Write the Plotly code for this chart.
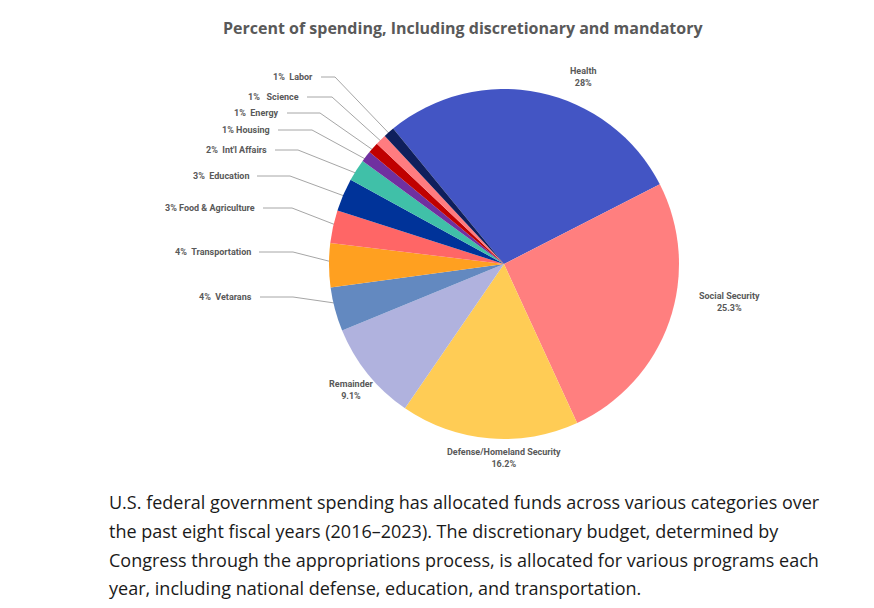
import numpy as np
import plotly.graph_objects as go

# data (clockwise from Health)
categories = ["Health", "Social Security", "Defense/Homeland Security", "Remainder",
              "Vetarans", "Transportation", "Food & Agriculture", "Education",
              "Int'l Affairs", "Housing", "Energy", "Science", "Labor"]
percents = [28, 25.3, 16.2, 9.1, 4, 4, 3, 3, 2, 1, 1, 1, 1]
colors = ["#4355C4", "#FF7F7F", "#FFCC55", "#B0B2DE", "#6389C0", "#FFA020", "#FF6666",
          "#003399", "#40C0A8", "#7030A0", "#C00000", "#FF7C80", "#0F1F5C"]

title = "Percent of spending, Including discretionary and mandatory"
paragraph = [
    "U.S. federal government spending has allocated funds across various categories over",
    "the past eight fiscal years (2016\u20132023). The discretionary budget, determined by",
    "Congress through the appropriations process, is allocated for various programs each",
    "year, including national defense, education, and transportation.",
]

# layout constants (page pixels); the page body adds an 8px offset
W, H = 874, 608
OFF = 8
CX, CY, R = 504, 264, 175
ROT = -39.3
GRAY = "#595959"
LINE = "#A6A6A6"

# big labels sit next to the pie, small ones on the left with leader lines
big_label_pos = {0: (583, 77), 1: (729, 302), 2: (504, 458), 3: (351, 390)}
small_label_y = {4: 297, 5: 252, 6: 208, 7: 176, 8: 150, 9: 130, 10: 113, 11: 97, 12: 77}
small_label_end = {4: 254, 5: 253, 6: 257, 7: 251, 8: 269, 9: 272, 10: 281, 11: 301, 12: 315}
small_elbow_x = {4: 293, 5: 293, 6: 292, 7: 290, 8: 298, 9: 312, 10: 320, 11: 332, 12: 335}
small_gap = {4: "\u00a0\u00a0", 5: "\u00a0\u00a0", 6: " ", 7: "\u00a0\u00a0", 8: "\u00a0\u00a0",
             9: " ", 10: "\u00a0\u00a0", 11: "\u00a0\u00a0\u00a0", 12: "\u00a0\u00a0"}

fig = go.Figure()

fig.add_trace(go.Pie(
    labels=categories, values=percents, sort=False, direction="clockwise",
    rotation=ROT, marker=dict(colors=colors, line=dict(width=0)),
    textinfo="none", hoverinfo="label+percent", showlegend=False,
    domain=dict(x=[(CX - R - OFF) / W, (CX + R - OFF) / W],
                y=[1 - (CY + R - OFF) / H, 1 - (CY - R - OFF) / H]),
))

total = sum(percents)
cum = np.cumsum([0] + percents[:-1])
annotations = []
label_font = dict(family="Roboto", size=9, color=GRAY, weight="bold")

for i, (cat, v) in enumerate(zip(categories, percents)):
    pct = f"{v:g}%"
    if i in big_label_pos:
        x, y = big_label_pos[i]
        annotations.append(dict(x=x, y=y, xref="x", yref="y", text=f"{cat}<br>{pct}",
                                showarrow=False, xanchor="center", yanchor="middle",
                                font=label_font))
    else:
        ang = np.radians(ROT + (cum[i] + v / 2) / total * 360)
        dx = CX + 0.91 * R * np.sin(ang)
        dy = CY - 0.91 * R * np.cos(ang)
        ly = small_label_y[i]
        lx = small_label_end[i]
        fig.add_trace(go.Scatter(
            x=[lx + 6, small_elbow_x[i], dx], y=[ly, ly, dy], mode="lines",
            line=dict(color=LINE, width=1), hoverinfo="skip", showlegend=False))
        fig.add_trace(go.Scatter(
            x=[dx], y=[dy], mode="markers", marker=dict(color="#8C8C8C", size=4),
            hoverinfo="skip", showlegend=False))
        annotations.append(dict(x=lx, y=ly, xref="x", yref="y", text=f"{pct}{small_gap[i]}{cat}",
                                showarrow=False, xanchor="right", yanchor="middle",
                                font=label_font))

annotations.append(dict(x=463, y=28, xref="x", yref="y", text=title, showarrow=False,
                        xanchor="center", yanchor="middle",
                        font=dict(family="Open Sans", size=16, color=GRAY, weight="bold")))

para_y = [502, 531, 560, 588]
for line, y in zip(paragraph, para_y):
    annotations.append(dict(x=107, y=y, xref="x", yref="y", text=line, showarrow=False,
                            xanchor="left", yanchor="middle",
                            font=dict(family="Open Sans", size=18, color="#1A1A1A")))

fig.update_layout(
    width=W, height=H, margin=dict(l=0, r=0, t=0, b=0),
    paper_bgcolor="white", plot_bgcolor="rgba(0,0,0,0)",
    xaxis=dict(range=[OFF, W + OFF], visible=False, fixedrange=True),
    yaxis=dict(range=[H + OFF, OFF], visible=False, fixedrange=True),
    annotations=annotations,
)

fig.write_html("out.html")
